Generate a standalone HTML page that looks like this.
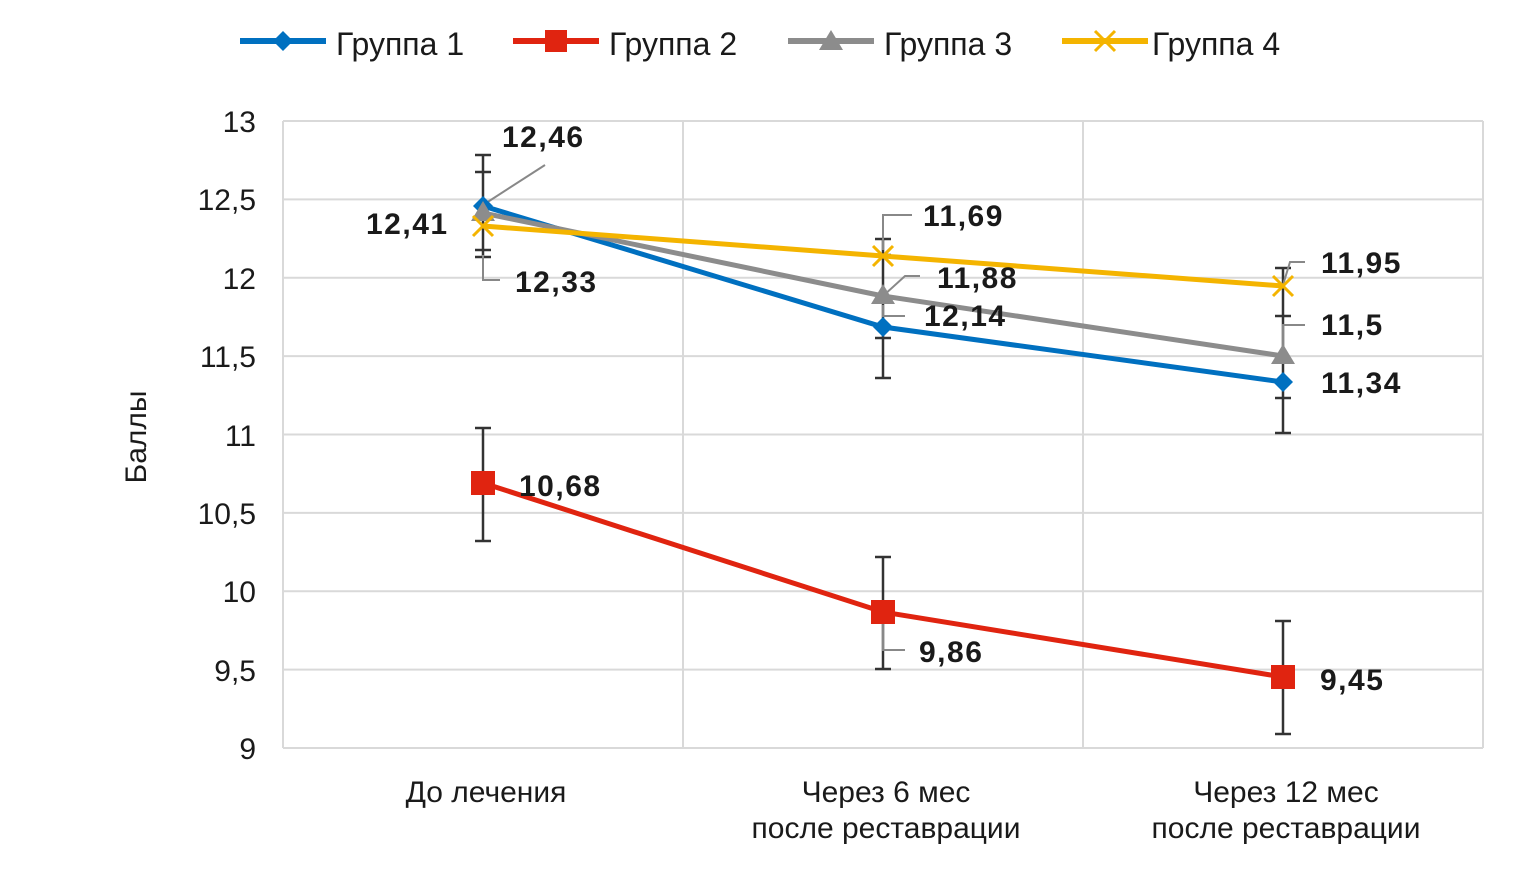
<!DOCTYPE html>
<html><head><meta charset="utf-8"><style>
html,body{margin:0;padding:0;background:#fff;}
svg{display:block;}
.t{font-family:"Liberation Sans Narrow","Liberation Sans",sans-serif;fill:#1a1a1a;}
.d{font-family:"Liberation Sans",sans-serif;font-weight:bold;font-size:30px;letter-spacing:1.5px;fill:#1a1a1a;}
</style></head><body>
<svg width="1522" height="875" viewBox="0 0 1522 875" xmlns="http://www.w3.org/2000/svg">
<g stroke="#d9d9d9" stroke-width="2" fill="none">
<line x1="283" y1="121" x2="1483" y2="121"/>
<line x1="283" y1="199.4" x2="1483" y2="199.4"/>
<line x1="283" y1="277.8" x2="1483" y2="277.8"/>
<line x1="283" y1="356.1" x2="1483" y2="356.1"/>
<line x1="283" y1="434.5" x2="1483" y2="434.5"/>
<line x1="283" y1="512.9" x2="1483" y2="512.9"/>
<line x1="283" y1="591.3" x2="1483" y2="591.3"/>
<line x1="283" y1="669.6" x2="1483" y2="669.6"/>
<line x1="283" y1="748" x2="1483" y2="748"/>
<line x1="283" y1="121" x2="283" y2="748"/>
<line x1="683" y1="121" x2="683" y2="748"/>
<line x1="1083" y1="121" x2="1083" y2="748"/>
<line x1="1483" y1="121" x2="1483" y2="748"/>
</g>
<g class="t" font-size="30" text-anchor="end">
<text x="256" y="132">13</text>
<text x="256" y="210">12,5</text>
<text x="256" y="289">12</text>
<text x="256" y="367">11,5</text>
<text x="256" y="446">11</text>
<text x="256" y="524">10,5</text>
<text x="256" y="602">10</text>
<text x="256" y="681">9,5</text>
<text x="256" y="759">9</text>
</g>
<text class="t" font-size="30" transform="translate(146,437) rotate(-90)" text-anchor="middle">Баллы</text>
<g class="t" font-size="30" text-anchor="middle">
<text x="486" y="802">До лечения</text>
<text x="886" y="802">Через 6 мес</text>
<text x="886" y="838">после реставрации</text>
<text x="1286" y="802">Через 12 мес</text>
<text x="1286" y="838">после реставрации</text>
</g>
<g stroke="#333" stroke-width="2.5" fill="none">
<path d="M483 155V257M475 155H491M475 172H491M475 250H491M475 257H491"/>
<path d="M483 428V541M475 428H491M475 541H491"/>
<path d="M883 239V378M875 239H891M875 255H891M875 338H891M875 378H891"/>
<path d="M883 557V669M875 557H891M875 669H891"/>
<path d="M1283 268V433M1275 268H1291M1275 316H1291M1275 398H1291M1275 433H1291"/>
<path d="M1283 621V734M1275 621H1291M1275 734H1291"/>
</g>
<g stroke="#888" stroke-width="2" fill="none">
<path d="M483 205L545 165"/>
<path d="M483 255V280H500"/>
<path d="M883 250V215H912"/>
<path d="M883 296L905 276H920"/>
<path d="M883 305V316H905"/>
<path d="M883 614V650H905"/>
<path d="M1283 285L1290 262H1305"/>
<path d="M1283 353V325H1305"/>
</g>
<polyline points="483,206 883,327 1283,382" fill="none" stroke="#0070c0" stroke-width="5"/>
<polyline points="483,483 883,612 1283,677" fill="none" stroke="#e02410" stroke-width="5"/>
<polyline points="483,213 883,296 1283,356" fill="none" stroke="#8c8c8c" stroke-width="5"/>
<polyline points="483,226 883,256 1283,286" fill="none" stroke="#f4b400" stroke-width="5"/>
<g fill="#0070c0"><path d="M483 196l10 10-10 10-10-10z"/><path d="M883 317l10 10-10 10-10-10z"/><path d="M1283 372l10 10-10 10-10-10z"/></g>
<g fill="#e02410"><rect x="471" y="471" width="24" height="24"/><rect x="871" y="600" width="24" height="24"/><rect x="1271" y="665" width="24" height="24"/></g>
<g fill="#8c8c8c"><path d="M483 201l12 20h-24z"/><path d="M883 284l12 20h-24z"/><path d="M1283 344l12 20h-24z"/></g>
<g stroke="#f4b400" stroke-width="3"><path d="M473 216l20 20M493 216l-20 20M873 246l20 20M893 246l-20 20M1273 276l20 20M1293 276l-20 20"/></g>
<text class="d" x="502" y="147">12,46</text>
<text class="d" x="366" y="234">12,41</text>
<text class="d" x="515" y="292">12,33</text>
<text class="d" x="923" y="226">11,69</text>
<text class="d" x="937" y="288">11,88</text>
<text class="d" x="924" y="326">12,14</text>
<text class="d" x="1321" y="273">11,95</text>
<text class="d" x="1321" y="335">11,5</text>
<text class="d" x="1321" y="393">11,34</text>
<text class="d" x="519" y="496">10,68</text>
<text class="d" x="919" y="662">9,86</text>
<text class="d" x="1320" y="690">9,45</text>
<g stroke-width="6">
<line x1="240" y1="41" x2="326" y2="41" stroke="#0070c0"/>
<line x1="513" y1="41" x2="599" y2="41" stroke="#e02410"/>
<line x1="788" y1="41" x2="874" y2="41" stroke="#8c8c8c"/>
<line x1="1062" y1="41" x2="1148" y2="41" stroke="#f4b400"/>
</g>
<path d="M283 31l10 10-10 10-10-10z" fill="#0070c0"/>
<rect x="545" y="30" width="22" height="22" fill="#e02410"/>
<path d="M831 30l12 20h-24z" fill="#8c8c8c"/>
<path d="M1095 31l20 20M1115 31l-20 20" stroke="#f4b400" stroke-width="3"/>
<g class="t" font-size="32">
<text x="336" y="55">Группа 1</text>
<text x="609" y="55">Группа 2</text>
<text x="884" y="55">Группа 3</text>
<text x="1152" y="55">Группа 4</text>
</g>
</svg>
</body></html>
